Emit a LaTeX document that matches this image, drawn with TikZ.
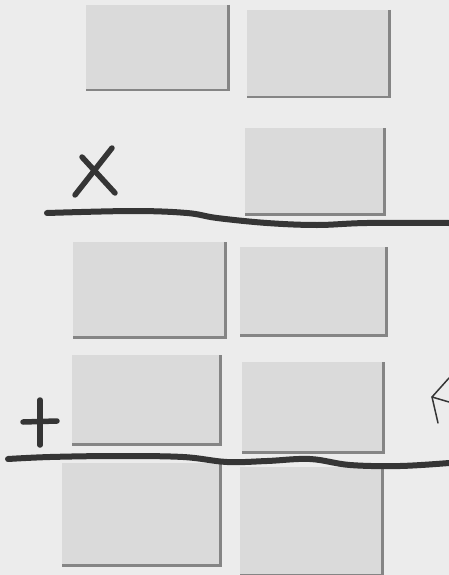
\documentclass[tikz,border=0pt]{standalone}
\begin{document}
\begin{tikzpicture}[x=1pt,y=-1pt,
  panel/.style={fill=panelfill, draw=none, inner sep=0pt, anchor=north west},
  shade/.style={draw=edgegray, line width=2.2pt},
  pen/.style={draw=inkgray, line width=6pt, line cap=round, line join=round},
  thinpen/.style={draw=inkgray, line width=1.5pt, line cap=round, line join=round}]
\definecolor{bggray}{HTML}{ECECEC}
\definecolor{panelfill}{HTML}{DADADA}
\definecolor{edgegray}{HTML}{858585}
\definecolor{inkgray}{HTML}{353535}
\fill[bggray] (0,0) rectangle (449,575);
\useasboundingbox (0,0) rectangle (449,575);
% panels: name, x, y, width, height
\foreach \n/\x/\y/\w/\h in {a/86/5/142/85, b/247/10/142/87, c/245/128/139/86,
  d/73/242/152/95, e/240/247/146/88, f/72/355/148/89, g/242/362/141/90,
  h/62/463/158/102, k/240/467/142/108}{
  \node[panel, minimum width=\w, minimum height=\h] (\n) at (\x,\y) {};
  \draw[shade] (\n.north east) -- (\n.south east) -- (\n.south west);
}
% hand-drawn rule 1
\draw[pen] plot[smooth, tension=0.6] coordinates {(47,213) (133,211) (187,213) (217,218) (267,223) (317,225) (367,223) (449,223)};
% hand-drawn rule 2
\draw[pen] plot[smooth, tension=0.6] coordinates {(8,459) (50,457) (117,456) (183,457) (227,462) (267,461) (310,459) (350,465) (400,466) (449,463)};
% X mark
\draw[pen, line width=5.5pt] (82,157) -- (115,193);
\draw[pen, line width=5.5pt] (75,195) -- (112,148);
% plus mark
\draw[pen, line width=5.5pt] (40,400) -- (40,445);
\draw[pen, line width=5.5pt] (23,422) -- (57,421);
% partial arrow at right edge
\draw[thinpen] (449,378) -- (432,397) -- (449,402);
\draw[thinpen] (432,397) -- (438,423);
\end{tikzpicture}
\end{document}
